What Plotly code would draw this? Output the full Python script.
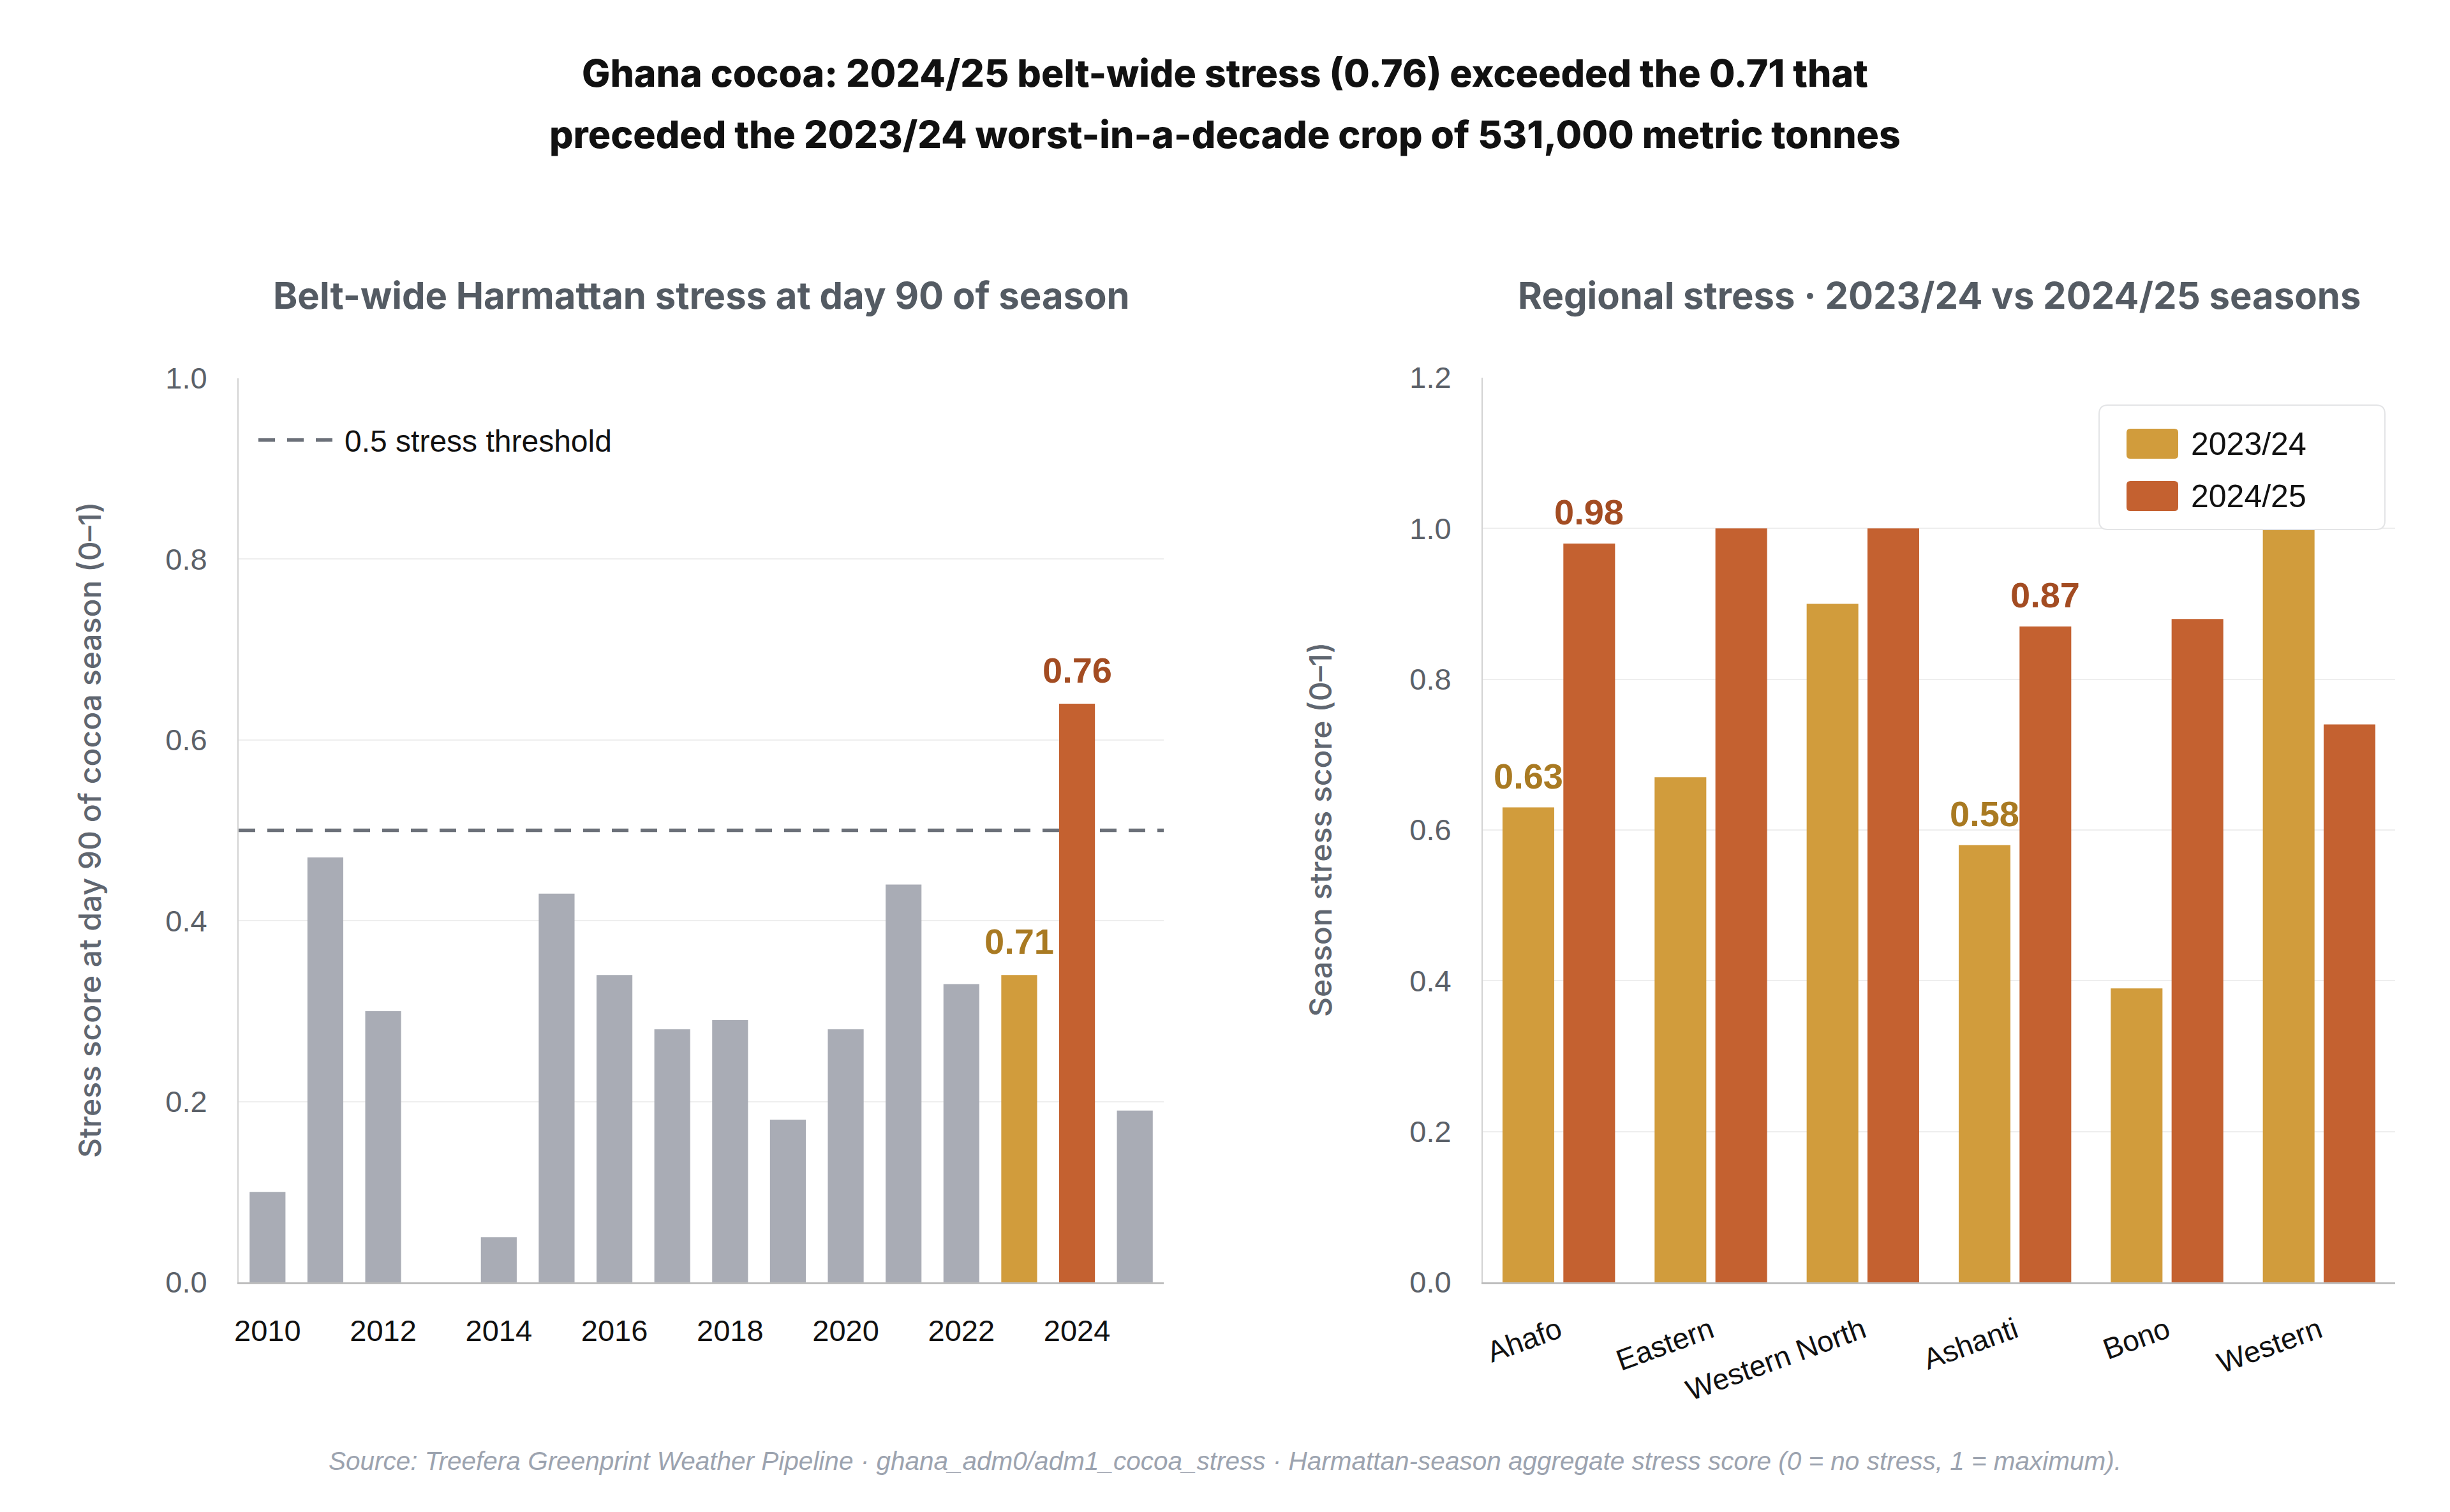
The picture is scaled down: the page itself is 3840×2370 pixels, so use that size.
import plotly.graph_objects as go

# ---------------- data ----------------
YEARS = list(range(2010, 2026))
BELT_STRESS = [0.10, 0.47, 0.30, 0.00, 0.05, 0.43, 0.34, 0.28, 0.29, 0.18,
               0.28, 0.44, 0.33, 0.34, 0.64, 0.19]
BELT_LABEL_YEARS = [2023, 2024]
BELT_LABEL_TEXT = ["0.71", "0.76"]
THRESHOLD = 0.5
THRESHOLD_NAME = "0.5 stress threshold"
LEFT_XRANGE = [2009.5, 2025.5]

REGIONS = ["Ahafo", "Eastern", "Western North", "Ashanti", "Bono", "Western"]
SEASONS = ["2023/24", "2024/25"]
STRESS_2324 = [0.63, 0.67, 0.90, 0.58, 0.39, 1.00]
STRESS_2425 = [0.98, 1.00, 1.00, 0.87, 0.88, 0.74]
LABEL_2324 = ["0.63", "", "", "0.58", "", ""]
LABEL_2425 = ["0.98", "", "", "0.87", "", ""]

LEFT_YTICKS = [0.0, 0.2, 0.4, 0.6, 0.8, 1.0]
RIGHT_YTICKS = [0.0, 0.2, 0.4, 0.6, 0.8, 1.0, 1.2]
LEFT_XTICKS = [2010, 2012, 2014, 2016, 2018, 2020, 2022, 2024]

TITLE_1 = "Ghana cocoa: 2024/25 belt-wide stress (0.76) exceeded the 0.71 that"
TITLE_2 = "preceded the 2023/24 worst-in-a-decade crop of 531,000 metric tonnes"
SUB_LEFT = "Belt-wide Harmattan stress at day 90 of season"
SUB_RIGHT = "Regional stress · 2023/24 vs 2024/25 seasons"
YTITLE_LEFT = "Stress score at day 90 of cocoa season (0–1)"
YTITLE_RIGHT = "Season stress score (0–1)"
FOOTER = ("Source: Treefera Greenprint Weather Pipeline · ghana_adm0/adm1_cocoa_stress · "
          "Harmattan-season aggregate stress score (0 = no stress, 1 = maximum).")

# ---------------- style ----------------
W, H = 3840, 2370
GRAY = "#a9acb5"
GOLD = "#d19c3c"
ORANGE = "#c46130"
GOLD_TXT = "#a97a22"
ORANGE_TXT = "#a34c22"
DASH = "#6b7079"
GRID = "#eeeeee"
SANS = "Liberation Sans, Arial, sans-serif"
INTER = "Inter, sans-serif"
BARGAP, GROUPGAP = 0.2, 0.15


def px(x):
    return x / W


def py(y):
    return 1 - y / H


bar_colors = []
for yr in YEARS:
    if yr == BELT_LABEL_YEARS[0]:
        bar_colors.append(GOLD)
    elif yr == BELT_LABEL_YEARS[1]:
        bar_colors.append(ORANGE)
    else:
        bar_colors.append(GRAY)

fig = go.Figure()

fig.add_trace(go.Bar(
    x=YEARS, y=BELT_STRESS, width=0.62, marker=dict(color=bar_colors, line=dict(width=0)),
    xaxis="x", yaxis="y", showlegend=False, hoverinfo="x+y"))

fig.add_trace(go.Bar(
    x=REGIONS, y=STRESS_2324, name=SEASONS[0], marker=dict(color=GOLD, line=dict(width=0)),
    xaxis="x2", yaxis="y2", showlegend=False))
fig.add_trace(go.Bar(
    x=REGIONS, y=STRESS_2425, name=SEASONS[1], marker=dict(color=ORANGE, line=dict(width=0)),
    xaxis="x2", yaxis="y2", showlegend=False))

tick_font = dict(family=SANS, size=47, color="#5b6169")
xtick_font = dict(family=SANS, size=47, color="#111111")

fig.update_layout(
    width=W, height=H,
    margin=dict(l=0, r=0, t=0, b=0),
    paper_bgcolor="white", plot_bgcolor="white",
    barmode="group", bargap=BARGAP, bargroupgap=GROUPGAP,
    xaxis=dict(domain=[px(374), px(1824)], range=LEFT_XRANGE, tickvals=LEFT_XTICKS,
               showgrid=False, zeroline=False, showline=True, linecolor="#bdbdbd", linewidth=3,
               ticks="", tickfont=xtick_font, ticklabelstandoff=33, automargin=False, anchor="y"),
    yaxis=dict(domain=[1 - 2010 / H, 1 - 593 / H], range=[0, 1.0], tickvals=LEFT_YTICKS,
               tickformat=".1f", showgrid=True, gridcolor=GRID, gridwidth=2, zeroline=False,
               showline=True, linecolor="#d2d2d2", linewidth=2, ticks="", tickfont=tick_font,
               ticklabelstandoff=38, automargin=False, anchor="x"),
    xaxis2=dict(domain=[px(2324), px(3754)], type="category", range=[-0.5, 5.5],
                showgrid=False, zeroline=False, showline=True, linecolor="#bdbdbd", linewidth=3,
                ticks="", tickfont=dict(family=SANS, size=46, color="#111111"), tickangle=-20,
                ticklabelstandoff=28, automargin=False, anchor="y2"),
    yaxis2=dict(domain=[1 - 2010 / H, 1 - 592 / H], range=[0, 1.2], tickvals=RIGHT_YTICKS,
                tickformat=".1f", showgrid=True, gridcolor=GRID, gridwidth=2, zeroline=False,
                showline=True, linecolor="#d2d2d2", linewidth=2, ticks="", tickfont=tick_font,
                ticklabelstandoff=38, automargin=False, anchor="x2"),
    showlegend=True,
    legend=dict(x=px(400), y=py(690), xanchor="left", yanchor="middle",
                font=dict(family=SANS, size=48, color="#111111"),
                bgcolor="rgba(0,0,0,0)", itemwidth=130),
)

# threshold line (below bars) with its own legend entry
fig.add_shape(type="line", xref="x", yref="y", x0=LEFT_XRANGE[0], x1=LEFT_XRANGE[1],
              y0=THRESHOLD, y1=THRESHOLD,
              line=dict(color=DASH, width=5.5, dash="26px,19px"), layer="below",
              showlegend=True, name=THRESHOLD_NAME)

ann = []
# main title (two lines)
for txt, yy in [(TITLE_1, 115), (TITLE_2, 211)]:
    ann.append(dict(text=txt, xref="paper", yref="paper", x=0.5, y=py(yy), xanchor="center",
                    yanchor="middle", showarrow=False,
                    font=dict(family=INTER, size=59, color="#111111", weight=800)))
# subplot titles
for txt, xc in [(SUB_LEFT, 1099), (SUB_RIGHT, 3039)]:
    ann.append(dict(text=txt, xref="paper", yref="paper", x=px(xc), y=py(463), xanchor="center",
                    yanchor="middle", showarrow=False,
                    font=dict(family=INTER, size=58, color="#545b63", weight=700)))
# y titles
for txt, xc in [(YTITLE_LEFT, 140), (YTITLE_RIGHT, 2069)]:
    ann.append(dict(text=txt, xref="paper", yref="paper", x=px(xc), y=py(1301), xanchor="center",
                    yanchor="middle", textangle=-90, showarrow=False,
                    font=dict(family=INTER, size=48, color="#5f6670", weight=500)))
# footer
ann.append(dict(text=FOOTER, xref="paper", yref="paper", x=0.5, y=py(2290), xanchor="center",
                yanchor="middle", showarrow=False,
                font=dict(family=SANS, size=40.5, color="#9ca3af", style="italic")))

# value labels, left
for yr, txt in zip(BELT_LABEL_YEARS, BELT_LABEL_TEXT):
    val = BELT_STRESS[YEARS.index(yr)]
    col = GOLD_TXT if yr == BELT_LABEL_YEARS[0] else ORANGE_TXT
    ann.append(dict(text=txt, xref="x", yref="y", x=yr, y=val, yanchor="middle", yshift=53,
                    showarrow=False, font=dict(family=SANS, size=56, color=col, weight=700)))

# value labels, right (grouped offsets: slot = (1 - bargap) / 2)
slot = (1 - BARGAP) / 2
for i, reg in enumerate(REGIONS):
    for vals, lbls, off, col in [(STRESS_2324, LABEL_2324, -slot / 2, GOLD_TXT),
                                 (STRESS_2425, LABEL_2425, slot / 2, ORANGE_TXT)]:
        if lbls[i]:
            ann.append(dict(text=lbls[i], xref="x2", yref="y2", x=i + off, y=vals[i],
                            yanchor="middle", yshift=49, showarrow=False,
                            font=dict(family=SANS, size=56, color=col, weight=700)))


# custom legend for the regional panel (large swatches)
def rrect(x0, y0, x1, y1, r):
    rx, ry = r / W, r / H
    X0, X1, Y0, Y1 = px(x0), px(x1), py(y0), py(y1)
    return (f"M{X0 + rx},{Y0} L{X1 - rx},{Y0} Q{X1},{Y0} {X1},{Y0 - ry} "
            f"L{X1},{Y1 + ry} Q{X1},{Y1} {X1 - rx},{Y1} L{X0 + rx},{Y1} "
            f"Q{X0},{Y1} {X0},{Y1 + ry} L{X0},{Y0 - ry} Q{X0},{Y0} {X0 + rx},{Y0} Z")


shapes = [dict(type="path", xref="paper", yref="paper", path=rrect(3290, 635, 3738, 830, 14),
               fillcolor="white", line=dict(color="#e3e4e6", width=2), layer="above")]
for (name, col, yc) in [(SEASONS[0], GOLD, 696), (SEASONS[1], ORANGE, 778)]:
    shapes.append(dict(type="path", xref="paper", yref="paper",
                       path=rrect(3333, yc - 24, 3414, yc + 23, 6),
                       fillcolor=col, line=dict(width=0), layer="above"))
    ann.append(dict(text=name, xref="paper", yref="paper", x=px(3432), y=py(yc), xanchor="left",
                    yanchor="middle", showarrow=False,
                    font=dict(family=SANS, size=50, color="#111111")))
for s in shapes:
    fig.add_shape(**s)

fig.update_layout(annotations=ann)

fig.write_html("out.html")
